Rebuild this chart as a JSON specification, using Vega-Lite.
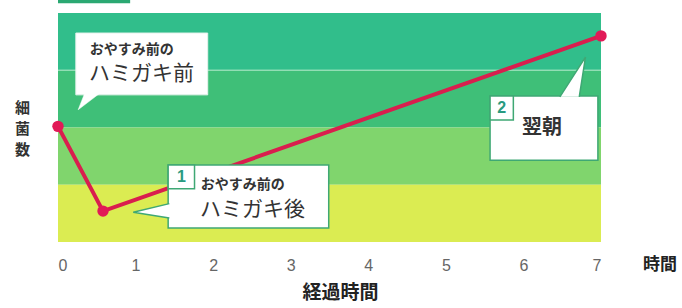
{
  "$schema": "https://vega.github.io/schema/vega-lite/v6.json",
  "width": 543,
  "height": 229,
  "autosize": "none",
  "padding": {"left": 58, "top": 13, "right": 81, "bottom": 66},
  "background": "white",
  "config": {"view": {"stroke": null}, "font": "Noto Sans CJK JP"},
  "datasets": {
    "bands": [
      {"band": "a", "x0": 0, "x1": 7, "y0": 3, "y1": 4},
      {"band": "b", "x0": 0, "x1": 7, "y0": 2, "y1": 3},
      {"band": "c", "x0": 0, "x1": 7, "y0": 1, "y1": 2},
      {"band": "d", "x0": 0, "x1": 7, "y0": 0, "y1": 1}
    ],
    "series": [
      {"t": 0, "n": 2.02},
      {"t": 0.58, "n": 0.54},
      {"t": 7, "n": 3.6}
    ],
    "boxA": [{"x0": 0.23, "x1": 1.93, "y0": 2.57, "y1": 3.65}],
    "boxes": [
      {"id": "B", "x0": 1.42, "x1": 3.49, "y0": 0.245, "y1": 1.345},
      {"id": "C", "x0": 5.57, "x1": 6.96, "y0": 1.43, "y1": 2.55}
    ],
    "badges": [
      {"id": "1", "x0": 1.42, "x1": 1.76, "y0": 0.93, "y1": 1.345},
      {"id": "2", "x0": 5.57, "x1": 5.87, "y0": 2.13, "y1": 2.55}
    ],
    "tailA": [
      {"i": 0, "x": 0.35, "y": 2.62},
      {"i": 1, "x": 0.26, "y": 2.31},
      {"i": 2, "x": 0.56, "y": 2.62}
    ],
    "tails": [
      {"id": "B", "i": 0, "x": 1.435, "y": 0.67},
      {"id": "B", "i": 1, "x": 0.97, "y": 0.52},
      {"id": "B", "i": 2, "x": 1.435, "y": 0.42},
      {"id": "C", "i": 0, "x": 6.47, "y": 2.535},
      {"id": "C", "i": 1, "x": 6.8, "y": 3.23},
      {"id": "C", "i": 2, "x": 6.72, "y": 2.535}
    ],
    "small": [
      {"x": 0.41, "y": 3.35, "text": "おやすみ前の"},
      {"x": 1.84, "y": 1.0, "text": "おやすみ前の"}
    ],
    "big": [
      {"x": 0.4, "y": 2.93, "text": "ハミガキ前"},
      {"x": 1.83, "y": 0.56, "text": "ハミガキ後"}
    ],
    "badgeText": [
      {"x": 1.59, "y": 1.14, "text": "1"},
      {"x": 5.72, "y": 2.34, "text": "2"}
    ],
    "mid": [{"x": 6.24, "y": 1.99, "text": "翌朝"}],
    "unit": [{"x": 7.76, "y": -0.4, "text": "時間"}],
    "header": [{"x0": 0, "x1": 0.93, "y0": 4.17, "y1": 4.24}]
  },
  "layer": [
    {
      "data": {"name": "bands"},
      "mark": {"type": "rect"},
      "encoding": {
        "x": {
          "field": "x0", "type": "quantitative",
          "scale": {"domain": [0, 7], "nice": false, "zero": false},
          "axis": {
            "values": [0, 1, 2, 3, 4, 5, 6, 7], "format": "d",
            "ticks": false, "domain": false, "grid": false,
            "labelFont": "Liberation Sans", "labelFontSize": 16, "labelColor": "#666",
            "labelPadding": 15,
            "title": "経過時間", "titleFontSize": 19, "titleFontWeight": "bold", "titleColor": "#222",
            "titleX": 282, "titleY": 50, "titleAlign": "center", "titleBaseline": "middle"
          }
        },
        "x2": {"field": "x1"},
        "y": {
          "field": "y0", "type": "quantitative",
          "scale": {"domain": [0, 4], "nice": false, "zero": false},
          "axis": {
            "ticks": false, "domain": false, "labels": false, "grid": false,
            "title": ["細", "菌", "数"], "titleAngle": 0,
            "titleX": -36, "titleY": 94, "titleAlign": "center", "titleBaseline": "middle",
            "titleFontSize": 15, "titleLineHeight": 21, "titleFontWeight": "bold", "titleColor": "#333"
          }
        },
        "y2": {"field": "y1"},
        "color": {
          "field": "band", "type": "nominal",
          "scale": {"domain": ["a", "b", "c", "d"], "range": ["#31be8b", "#3fbf78", "#80d56d", "#dbec52"]},
          "legend": null
        }
      }
    },
    {
      "data": {"values": [{"y": 3}]},
      "mark": {"type": "rule", "color": "#9fe2bd", "strokeWidth": 1.5, "opacity": 0.8},
      "encoding": {"y": {"field": "y", "type": "quantitative"}}
    },
    {
      "data": {"name": "header"},
      "mark": {"type": "rect", "color": "#2aa872"},
      "encoding": {
        "x": {"field": "x0", "type": "quantitative"}, "x2": {"field": "x1"},
        "y": {"field": "y0", "type": "quantitative"}, "y2": {"field": "y1"}
      }
    },
    {
      "data": {"name": "boxA"},
      "mark": {"type": "rect", "fill": "white", "stroke": "#e6f2ec", "strokeWidth": 1},
      "encoding": {
        "x": {"field": "x0", "type": "quantitative"}, "x2": {"field": "x1"},
        "y": {"field": "y0", "type": "quantitative"}, "y2": {"field": "y1"}
      }
    },
    {
      "data": {"name": "tailA"},
      "mark": {"type": "line", "fill": "white", "stroke": "white", "strokeWidth": 0.5},
      "encoding": {
        "x": {"field": "x", "type": "quantitative"},
        "y": {"field": "y", "type": "quantitative"},
        "order": {"field": "i"}
      }
    },
    {
      "data": {"name": "series"},
      "mark": {"type": "line", "color": "#d91e4e", "strokeWidth": 4},
      "encoding": {
        "x": {"field": "t", "type": "quantitative"},
        "y": {"field": "n", "type": "quantitative"}
      }
    },
    {
      "data": {"name": "series"},
      "mark": {"type": "point", "filled": true, "color": "#e11a57", "size": 130, "opacity": 1},
      "encoding": {
        "x": {"field": "t", "type": "quantitative"},
        "y": {"field": "n", "type": "quantitative"}
      }
    },
    {
      "data": {"name": "boxes"},
      "mark": {"type": "rect", "fill": "white", "stroke": "#3fa874", "strokeWidth": 1.5},
      "encoding": {
        "x": {"field": "x0", "type": "quantitative"}, "x2": {"field": "x1"},
        "y": {"field": "y0", "type": "quantitative"}, "y2": {"field": "y1"}
      }
    },
    {
      "data": {"name": "tails"},
      "mark": {"type": "line", "fill": "white", "stroke": "#3fa874", "strokeWidth": 1.5},
      "encoding": {
        "x": {"field": "x", "type": "quantitative"},
        "y": {"field": "y", "type": "quantitative"},
        "detail": {"field": "id"},
        "order": {"field": "i"}
      }
    },
    {
      "data": {"name": "badges"},
      "mark": {"type": "rect", "fill": "white", "stroke": "#3fa874", "strokeWidth": 1.5},
      "encoding": {
        "x": {"field": "x0", "type": "quantitative"}, "x2": {"field": "x1"},
        "y": {"field": "y0", "type": "quantitative"}, "y2": {"field": "y1"}
      }
    },
    {
      "data": {"name": "badgeText"},
      "mark": {"type": "text", "font": "Liberation Sans", "fontSize": 16, "fontWeight": "bold", "color": "#2a9a80", "align": "center", "baseline": "middle"},
      "encoding": {
        "x": {"field": "x", "type": "quantitative"},
        "y": {"field": "y", "type": "quantitative"},
        "text": {"field": "text"}
      }
    },
    {
      "data": {"name": "small"},
      "mark": {"type": "text", "fontSize": 14, "fontWeight": "bold", "color": "#333", "align": "left", "baseline": "middle"},
      "encoding": {
        "x": {"field": "x", "type": "quantitative"},
        "y": {"field": "y", "type": "quantitative"},
        "text": {"field": "text"}
      }
    },
    {
      "data": {"name": "big"},
      "mark": {"type": "text", "fontSize": 21, "color": "#333", "align": "left", "baseline": "middle"},
      "encoding": {
        "x": {"field": "x", "type": "quantitative"},
        "y": {"field": "y", "type": "quantitative"},
        "text": {"field": "text"}
      }
    },
    {
      "data": {"name": "mid"},
      "mark": {"type": "text", "fontSize": 20, "fontWeight": "bold", "color": "#333", "align": "center", "baseline": "middle"},
      "encoding": {
        "x": {"field": "x", "type": "quantitative"},
        "y": {"field": "y", "type": "quantitative"},
        "text": {"field": "text"}
      }
    },
    {
      "data": {"name": "unit"},
      "mark": {"type": "text", "fontSize": 17, "fontWeight": "bold", "color": "#222", "align": "center", "baseline": "middle"},
      "encoding": {
        "x": {"field": "x", "type": "quantitative"},
        "y": {"field": "y", "type": "quantitative"},
        "text": {"field": "text"}
      }
    }
  ]
}
